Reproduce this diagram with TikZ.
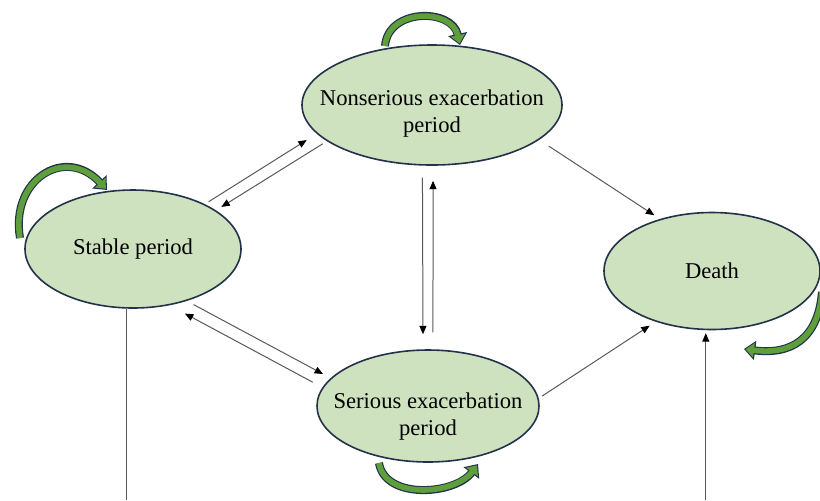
\documentclass[tikz,border=0pt]{standalone}
\usepackage{fontspec}
\setmainfont{Liberation Serif}
\usetikzlibrary{arrows.meta, shapes.geometric}
\definecolor{stfill}{HTML}{CFE2C0}
\definecolor{stedge}{HTML}{22324A}
\definecolor{lpgreen}{HTML}{5E9E3B}
\tikzset{
  sta/.style={ellipse, draw=stedge, fill=stfill, line width=0.8pt, inner xsep=-12pt, inner ysep=0pt, align=center},
  tra/.style={->, >={Triangle[length=4.2pt, width=3.5pt, color=black]}, draw=black!65, line width=0.5pt},
  selfarr/.style={draw=lpgreen, line width=2.8pt, -{Triangle[length=4.2pt, width=7pt]}, shorten >=0.8pt,
    preaction={draw=stedge, line width=4pt, -{Triangle[length=5.6pt, width=9.4pt]}, shorten >=0pt}}
}
\begin{document}
\begin{tikzpicture}[x=0.5pt, y=-0.5pt, font=\fontsize{11.3}{13.5}\selectfont]
		\useasboundingbox (0,0) rectangle (820,500);
		\draw[selfarr] (385,46) .. controls (388,8) and (452,8) .. (460,45);
		\draw[selfarr] (20,238) .. controls (10,180) and (65,145) .. (107,190);
		\draw[selfarr] (822,292) .. controls (818,340) and (790,355) .. (744,349);
		\draw[selfarr] (379,463) .. controls (385,500) and (455,495) .. (478,464);
		\node[sta, minimum width=108pt, minimum height=59pt] (stable) at (133,249) {Stable period};
		\node[sta, minimum width=130pt, minimum height=60pt,
			label={[align=center, yshift=-4.5pt, name=nstext]center:Nonserious exacerbation\\period}] (nonserious) at (432,105) {};
		\node[sta, minimum width=111pt, minimum height=56pt,
			label={[align=center, yshift=-5.5pt, name=sstext]center:Serious exacerbation\\period}] (serious) at (428,406) {};
		\node[sta, minimum width=108pt, minimum height=58.5pt] (death) at (712,271) {Death};
		\coordinate (sbot) at (127,500);
		\coordinate (dbot) at (706,500);
		\draw[tra, shorten <=2.2pt, shorten >=5.9pt] (stable.32) -- (nonserious.194);
		\draw[tra, shorten <=2.4pt, shorten >=3.2pt] (nonserious.199) -- (stable.25);
		\draw[tra, shorten <=6pt, shorten >=7.5pt] (nonserious.261.5) -- (serious.95);
		\draw[tra, shorten <=8.5pt, shorten >=7.5pt] (serious.85) -- (nonserious.271);
		\draw[tra, shorten <=5.8pt, shorten >=3.4pt] (nonserious.342) -- (death.135);
		\draw[tra, shorten <=3.8pt, shorten >=4.3pt] (stable.316) -- (serious.164.6);
		\draw[tra, shorten <=5.5pt, shorten >=8.7pt] (serious.170.5) -- (stable.303.4);
		\draw[tra, shorten <=2pt, shorten >=3.6pt] (serious.4.6) -- (death.222);
		\draw[tra, -] (stable.264) -- (stable.264 |- sbot);
		\draw[tra, shorten >=1.5pt] (death.264 |- dbot) -- (death.264);
	\end{tikzpicture}
\end{document}
